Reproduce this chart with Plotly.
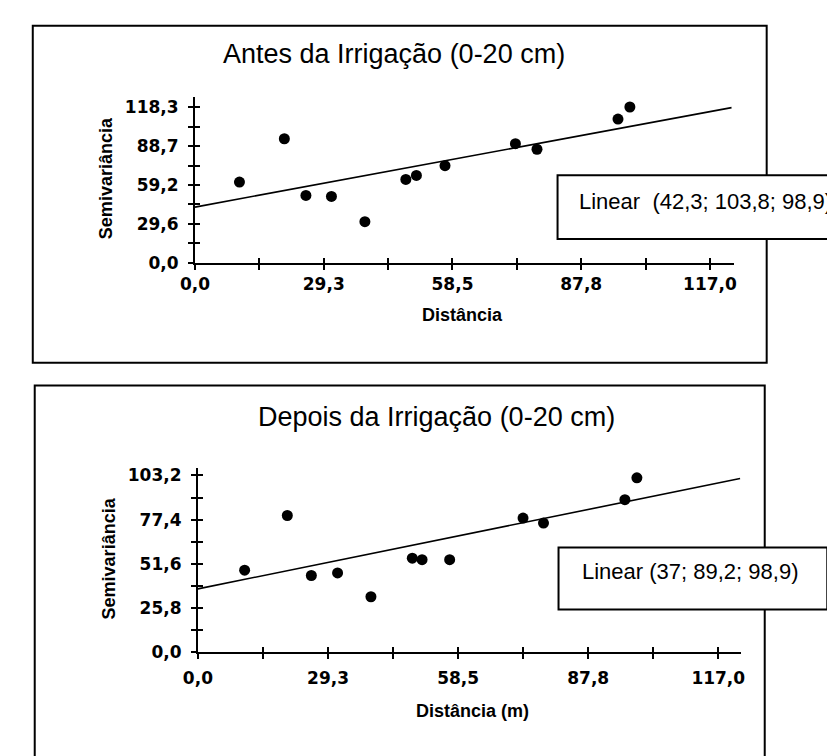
import plotly.graph_objects as go

W, H = 835, 756

# ---------------- data ----------------
dist_antes = [10.1, 20.3, 25.2, 31.0, 38.6, 47.9, 50.3, 56.8, 72.8, 77.7, 96.1, 98.8]
semi_antes = [61.4, 94.4, 51.2, 50.4, 31.2, 63.4, 66.4, 73.9, 90.6, 86.4, 109.4, 118.6]

dist_depois = [10.5, 20.1, 25.5, 31.4, 38.9, 48.2, 50.4, 56.6, 73.1, 77.7, 96.0, 98.7]
semi_depois = [47.9, 79.8, 44.8, 46.3, 32.4, 54.9, 54.0, 54.0, 78.3, 75.4, 89.0, 101.8]

# linear model parameters (nugget; sill; range)
model_antes = [42.3, 103.8, 98.9]
model_depois = [37.0, 89.2, 98.9]
lag_line = [0.0, 121.9]

x_tick_vals = [0, 14.625, 29.25, 43.875, 58.5, 73.125, 87.75, 102.375, 117.0]
x_tick_text = ["0,0", "", "29,3", "", "58,5", "", "87,8", "", "117,0"]

y_tick_vals_antes = [0, 14.7875, 29.575, 44.3625, 59.15, 73.9375, 88.725, 103.5125, 118.3]
y_tick_text_antes = ["0,0", "", "29,6", "", "59,2", "", "88,7", "", "118,3"]

y_tick_vals_depois = [0, 12.9, 25.8, 38.7, 51.6, 64.5, 77.4, 90.3, 103.2]
y_tick_text_depois = ["0,0", "", "25,8", "", "51,6", "", "77,4", "", "103,2"]

title_antes = "Antes da Irrigação (0-20 cm)"
title_depois = "Depois da Irrigação (0-20 cm)"
legend_antes = "Linear  (42,3; 103,8; 98,9)"
legend_depois = "Linear (37; 89,2; 98,9)"
xlabel_antes = "Distância"
xlabel_depois = "Distância (m)"
ylabel = "Semivariância"


def line_model(params, lags):
    c0, sill, a = params
    return [c0 + (sill - c0) / a * h for h in lags]


def px(x):
    return x / W


def py(y):
    return 1 - y / H


fig = go.Figure()

# top panel
fig.add_trace(go.Scatter(x=lag_line, y=line_model(model_antes, lag_line), mode="lines",
                         line=dict(color="black", width=1.6), xaxis="x", yaxis="y",
                         showlegend=False, hoverinfo="skip"))
fig.add_trace(go.Scatter(x=dist_antes, y=semi_antes, mode="markers",
                         marker=dict(color="black", size=11), xaxis="x", yaxis="y",
                         showlegend=False))
# bottom panel
fig.add_trace(go.Scatter(x=lag_line, y=line_model(model_depois, lag_line), mode="lines",
                         line=dict(color="black", width=1.6), xaxis="x2", yaxis="y2",
                         showlegend=False, hoverinfo="skip"))
fig.add_trace(go.Scatter(x=dist_depois, y=semi_depois, mode="markers",
                         marker=dict(color="black", size=11), xaxis="x2", yaxis="y2",
                         showlegend=False))
# empty traces for overlay (inside tick) axes
fig.add_trace(go.Scatter(x=[], y=[], xaxis="x3", yaxis="y3", showlegend=False))
fig.add_trace(go.Scatter(x=[], y=[], xaxis="x4", yaxis="y4", showlegend=False))

tickfont = dict(family="DejaVu Sans", size=17, color="black", weight="bold")

# top geometry (pixels)
tx0, tx1, ty0, ty1 = 176, 728, 256, 88
txr = [0, (tx1 - tx0) / 4.504]
tyr = [0, (ty0 - ty1) / 1.335]
# bottom geometry
bx0, bx1, by0, by1 = 179, 735, 652.5, 465
bxr = [0, (bx1 - bx0) / 4.551]
byr = [0, (by0 - by1) / 1.744]


def xax(dom, rng, anchor, standoff=2, overlay=None):
    d = dict(domain=dom, range=rng, anchor=anchor, tickmode="array",
             tickvals=x_tick_vals, ticktext=x_tick_text,
             showgrid=False, zeroline=False, fixedrange=True, tickcolor="black",
             tickwidth=1.5, ticklen=5, tickfont=tickfont)
    if overlay:
        d.update(overlaying=overlay, ticks="inside", showline=False, showticklabels=False)
    else:
        d.update(ticks="outside", showline=True, linecolor="black", linewidth=2,
                 ticklabelstandoff=standoff)
    return d


def yax(dom, rng, anchor, vals, text, overlay=None):
    d = dict(domain=dom, range=rng, anchor=anchor, tickmode="array",
             tickvals=vals, ticktext=text,
             showgrid=False, zeroline=False, fixedrange=True, tickcolor="black",
             tickwidth=1.5, ticklen=5, tickfont=tickfont)
    if overlay:
        d.update(overlaying=overlay, ticks="inside", showline=False, showticklabels=False)
    else:
        d.update(ticks="outside", showline=True, linecolor="black", linewidth=2,
                 ticklabelstandoff=6)
    return d


top_xdom = [px(tx0), px(tx1)]
top_ydom = [py(ty0), py(ty1)]
bot_xdom = [px(bx0), px(bx1)]
bot_ydom = [py(by0), py(by1)]

fig.update_layout(
    width=W, height=H,
    margin=dict(l=0, r=0, t=0, b=0),
    paper_bgcolor="white", plot_bgcolor="rgba(0,0,0,0)",
    showlegend=False,
    xaxis=xax(top_xdom, txr, "y", standoff=0),
    yaxis=yax(top_ydom, tyr, "x", y_tick_vals_antes, y_tick_text_antes),
    xaxis2=xax(bot_xdom, bxr, "y2", standoff=4),
    yaxis2=yax(bot_ydom, byr, "x2", y_tick_vals_depois, y_tick_text_depois),
    xaxis3=xax(top_xdom, txr, "y3", overlay="x"),
    yaxis3=yax(top_ydom, tyr, "x3", y_tick_vals_antes, y_tick_text_antes, overlay="y"),
    xaxis4=xax(bot_xdom, bxr, "y4", overlay="x2"),
    yaxis4=yax(bot_ydom, byr, "x4", y_tick_vals_depois, y_tick_text_depois, overlay="y2"),
)

shapes = []
# panel frames
shapes.append(dict(type="rect", xref="paper", yref="paper", x0=px(10), x1=px(761),
                   y0=py(358), y1=py(15), line=dict(color="black", width=2),
                   fillcolor="rgba(0,0,0,0)", layer="below"))
shapes.append(dict(type="rect", xref="paper", yref="paper", x0=px(12), x1=px(759),
                   y0=py(760), y1=py(381), line=dict(color="black", width=2),
                   fillcolor="rgba(0,0,0,0)", layer="below"))
# legend boxes
shapes.append(dict(type="rect", xref="paper", yref="paper", x0=px(547), x1=px(845),
                   y0=py(232), y1=py(167), line=dict(color="black", width=2),
                   fillcolor="white", layer="above"))
shapes.append(dict(type="rect", xref="paper", yref="paper", x0=px(548), x1=px(823),
                   y0=py(609), y1=py(546), line=dict(color="black", width=2),
                   fillcolor="white", layer="above"))
fig.update_layout(shapes=shapes)

font_title = dict(family="Liberation Sans, Arial", size=27, color="black")
font_leg = dict(family="Liberation Sans, Arial", size=22, color="black")
font_axt = dict(family="Liberation Sans, Arial", size=18, color="black", weight="bold")

ann = [
    dict(text=title_antes, x=px(380), y=py(44), font=font_title),
    dict(text=title_depois, x=px(423), y=py(413), font=font_title),
    dict(text=legend_antes, x=px(567), y=py(194), xanchor="left", font=font_leg),
    dict(text=legend_depois, x=px(570), y=py(570), xanchor="left", font=font_leg),
    dict(text=xlabel_antes, x=px(450), y=py(309), font=font_axt),
    dict(text=xlabel_depois, x=px(460), y=py(712), font=font_axt),
    dict(text=ylabel, x=px(85), y=py(170), textangle=-90, font=font_axt),
    dict(text=ylabel, x=px(88), y=py(557), textangle=-90, font=font_axt),
]
for a in ann:
    a.setdefault("xanchor", "center")
    a.update(xref="paper", yref="paper", yanchor="middle", showarrow=False)
fig.update_layout(annotations=ann)

fig.write_html("out.html")
